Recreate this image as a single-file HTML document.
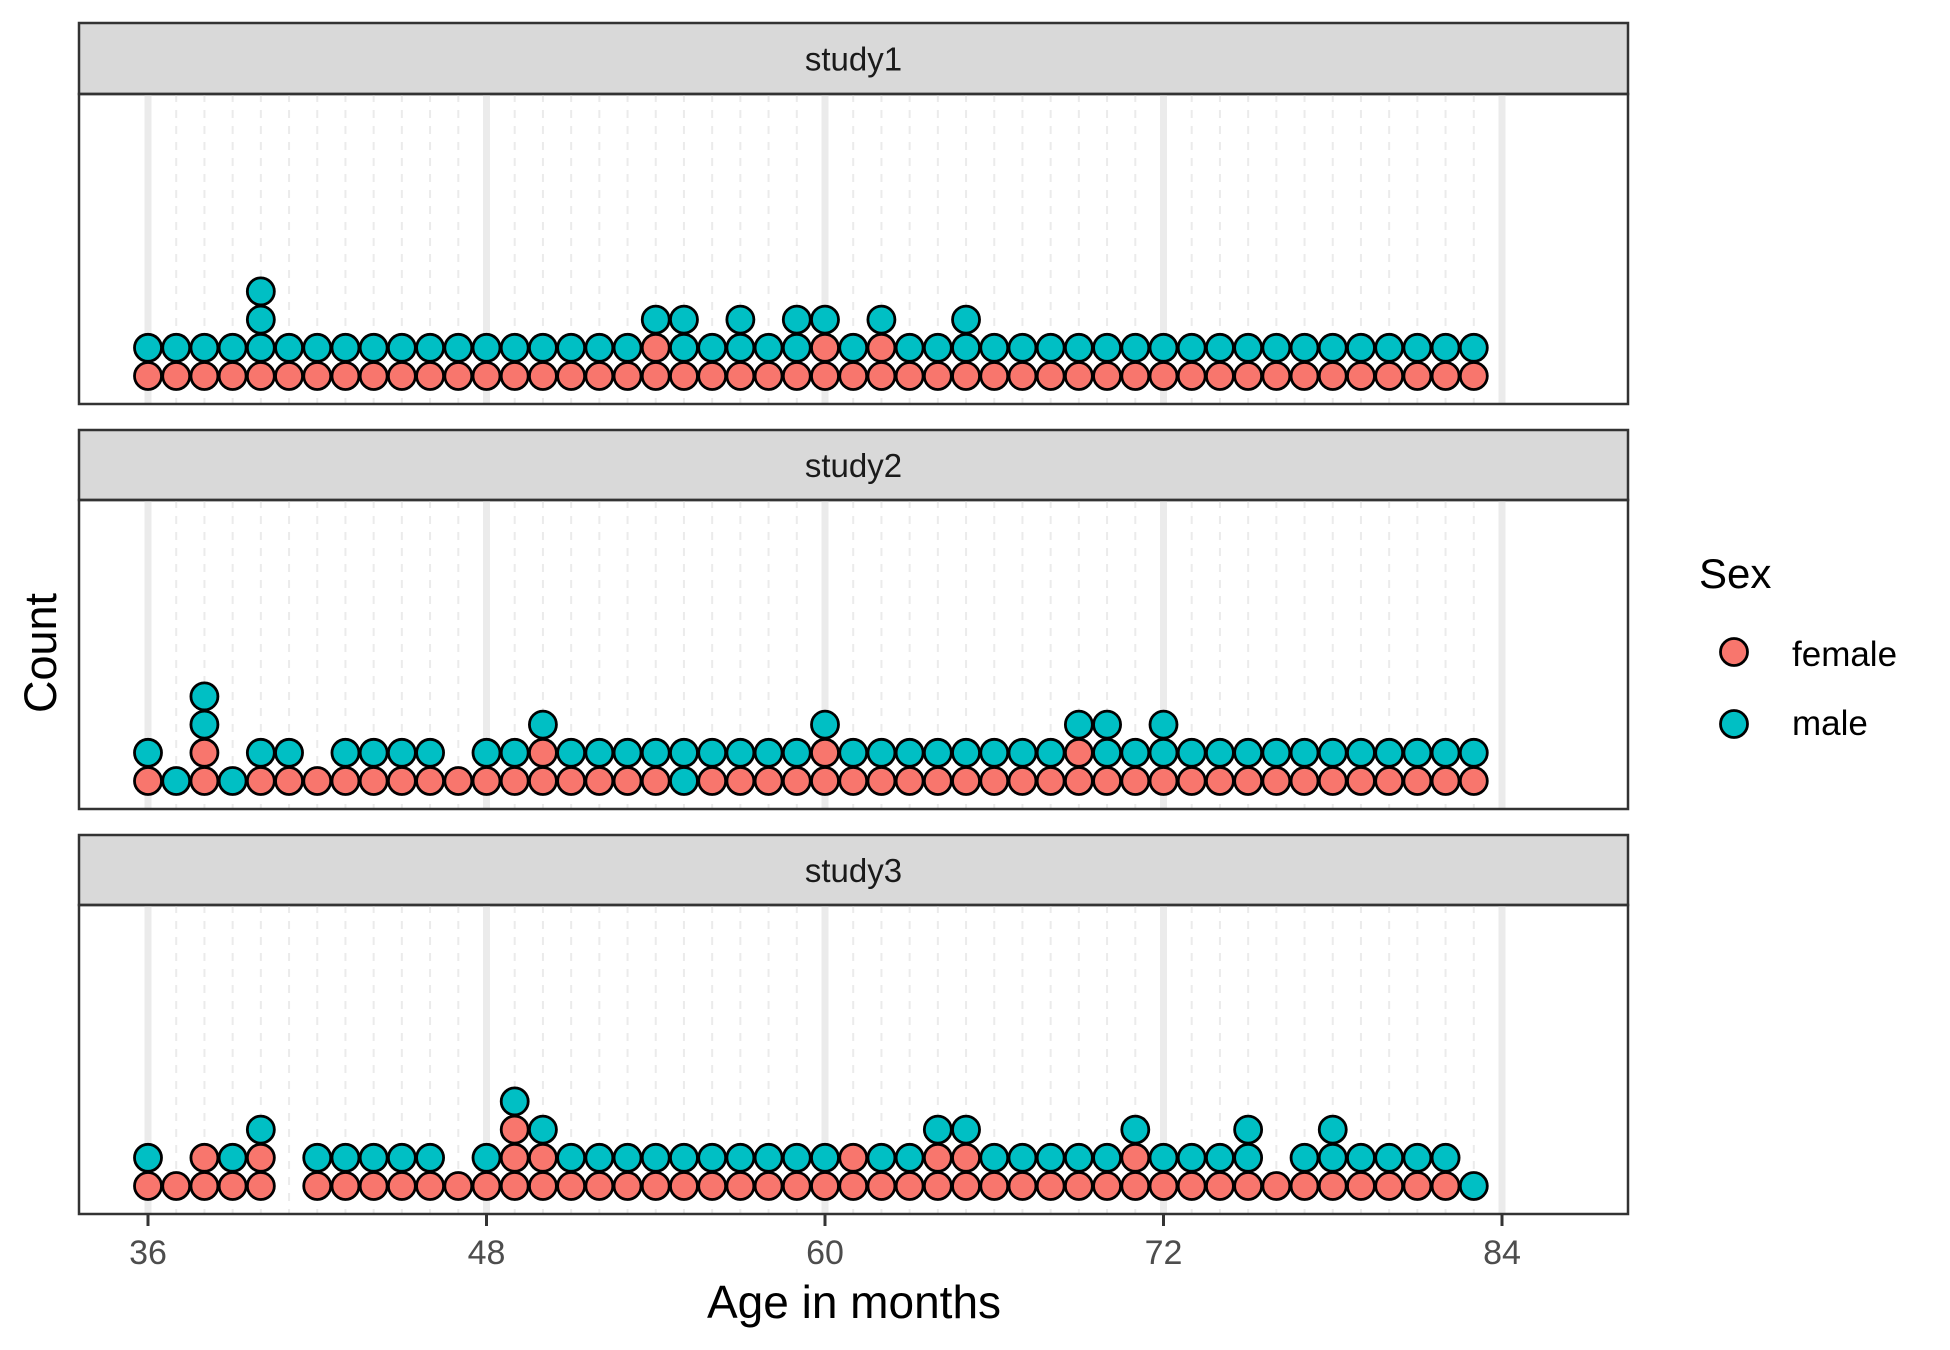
<!DOCTYPE html>
<html><head><meta charset="utf-8"><style>
body{margin:0;background:#fff;}
svg{display:block;font-family:"Liberation Sans",Arial,sans-serif;}
</style></head><body>
<svg id="chart" width="1950" height="1350" xmlns="http://www.w3.org/2000/svg"></svg>
<script>
const ages = Array.from({length:48},(_,i)=>36+i);
const studies = ["study1","study2","study3"];
const study1Female = [1,1,1,1,1,1,1,1,1,1,1,1,1,1,1,1,1,1,2,1,1,1,1,1,2,1,2,1,1,1,1,1,1,1,1,1,1,1,1,1,1,1,1,1,1,1,1,1];
const study1Male   = [1,1,1,1,3,1,1,1,1,1,1,1,1,1,1,1,1,1,1,2,1,2,1,2,1,1,1,1,1,2,1,1,1,1,1,1,1,1,1,1,1,1,1,1,1,1,1,1];
const study2Female = [1,0,2,0,1,1,1,1,1,1,1,1,1,1,2,1,1,1,1,0,1,1,1,1,2,1,1,1,1,1,1,1,1,2,1,1,1,1,1,1,1,1,1,1,1,1,1,1];
const study2Male   = [1,1,2,1,1,1,0,1,1,1,1,0,1,1,1,1,1,1,1,2,1,1,1,1,1,1,1,1,1,1,1,1,1,1,2,1,2,1,1,1,1,1,1,1,1,1,1,1];
const study3Female = [1,1,2,1,2,0,1,1,1,1,1,1,1,3,2,1,1,1,1,1,1,1,1,1,1,2,1,1,2,2,1,1,1,1,1,2,1,1,1,1,1,1,1,1,1,1,1,0];
const study3Male   = [1,0,0,1,1,0,1,1,1,1,1,0,1,1,1,1,1,1,1,1,1,1,1,1,1,0,1,1,1,1,1,1,1,1,1,1,1,1,1,2,0,1,2,1,1,1,1,1];
const femaleData = [study1Female, study2Female, study3Female];
const maleData = [study1Male, study2Male, study3Male];
const xTicks = [36,48,60,72,84];

const svg = document.getElementById('chart');
const NS = 'http://www.w3.org/2000/svg';
function mk(tag, attrs, parent){const e=document.createElementNS(NS,tag);for(const k in attrs)e.setAttribute(k,attrs[k]);(parent||svg).appendChild(e);return e;}
const PL=79, PR=1628;
const xScale = v => 148 + (v-36)*(1502-148)/48;
const panels = [{st:23,sb:94,pb:404},{st:430,sb:500,pb:809},{st:835,sb:905,pb:1214}];
const R=13.5, STEP=28.2;
const FEM='#F8766D', MAL='#00BFC4';

panels.forEach((p,pi)=>{
  const g = mk('g',{});
  
  
  const strip = mk('rect',{x:PL,y:p.st,width:PR-PL,height:p.sb-p.st,fill:'#d9d9d9',stroke:'#333',"stroke-width":2.5},g);
  
  
  const st = mk('text',{x:(PL+PR)/2,y:(p.st+p.sb)/2+12,"text-anchor":"middle","font-size":33,fill:'#1a1a1a'},g);
  st.textContent = studies[pi];
  
  
  for(let a=36;a<=83;a++){
    const ml = mk('line',{x1:xScale(a),x2:xScale(a),y1:p.sb,y2:p.pb,stroke:'#ebebeb',"stroke-width":2,"stroke-dasharray":"8,8"},g);
    
    
  }
  xTicks.forEach(t=>{
    const gl = mk('line',{x1:xScale(t),x2:xScale(t),y1:p.sb,y2:p.pb,stroke:'#ebebeb',"stroke-width":7},g);
    
    
  });
  ages.forEach((age,i)=>{
    const f=femaleData[pi][i], m=maleData[pi][i];
    for(let k=0;k<f+m;k++){
      const c = mk('circle',{cx:xScale(age),cy:p.pb-28-STEP*k,r:R,fill:k<f?FEM:MAL,stroke:'#000',"stroke-width":2.8},g);
      
      
    }
  });
  const frame = mk('rect',{x:PL,y:p.sb,width:PR-PL,height:p.pb-p.sb,fill:'none',stroke:'#333',"stroke-width":2.5},g);
  
  
});

xTicks.forEach(t=>{
  const tk = mk('line',{x1:xScale(t),x2:xScale(t),y1:1214,y2:1226,stroke:'#333',"stroke-width":3});
  
  
  const tl = mk('text',{x:xScale(t),y:1264,"text-anchor":"middle","font-size":34,fill:'#4d4d4d'});
  tl.textContent = t;
  
  
});
const xt = mk('text',{x:854,y:1318,"text-anchor":"middle","font-size":46,fill:'#000'});
xt.textContent='Age in months';


const yt = mk('text',{x:0,y:0,"text-anchor":"middle","font-size":45,fill:'#000',transform:'translate(56,653) rotate(-90)'});
yt.textContent='Count';



const lt = mk('text',{x:1699,y:588,"font-size":42,fill:'#000'});
lt.textContent='Sex';


[['female',FEM,652,666],['male',MAL,724,735]].forEach(([lab,col,y,by])=>{
  const c = mk('circle',{cx:1734,cy:y,r:13.5,fill:col,stroke:'#000',"stroke-width":2.8});
  
  
  const t = mk('text',{x:1792,y:by,"font-size":35,fill:'#000'});
  t.textContent=lab;
  
  
});
</script>
</body></html>
